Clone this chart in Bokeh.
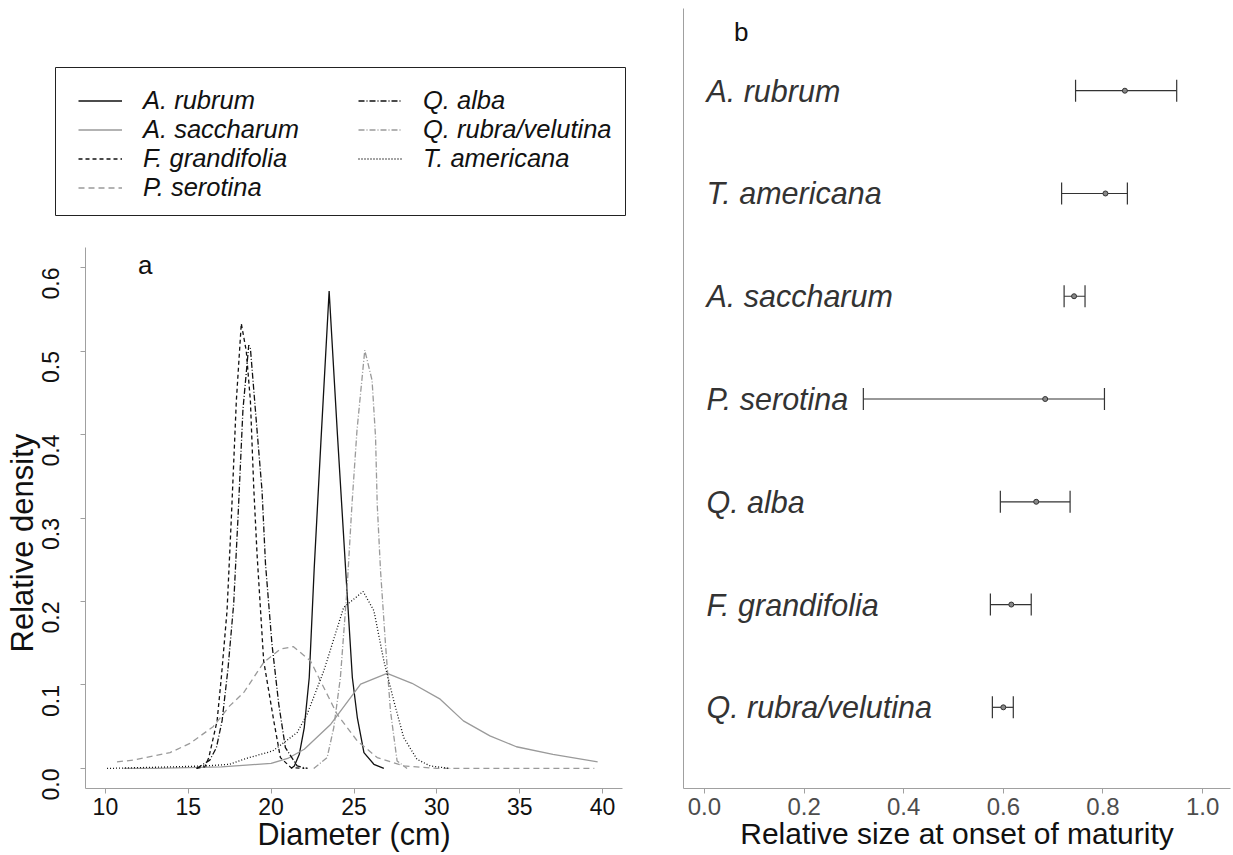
import math
from bokeh.plotting import figure
from bokeh.layouts import row, column
from bokeh.models import (Range1d, Legend, LegendItem, Whisker, TeeHead, Title,
                          ColumnDataSource, FixedTicker, Label, CustomJSTickFormatter)
from bokeh.embed import file_html
from bokeh.resources import INLINE
from bokeh.core.properties import value

FONT = "Liberation Sans"

# ---- panel a: diameter density curves ----
species = ["A. rubrum", "A. saccharum", "F. grandifolia", "P. serotina",
           "Q. alba", "Q. rubra/velutina", "T. americana"]

a_rubrum_x = [21.2, 21.4, 21.7, 22.0, 22.3, 22.6, 23.0, 23.5, 24.0, 24.5, 24.9, 25.2, 25.6, 26.2, 26.8]
a_rubrum_y = [0.0, 0.003, 0.017, 0.049, 0.109, 0.24, 0.39, 0.572, 0.40, 0.237, 0.109, 0.061, 0.019, 0.005, 0.0]

a_saccharum_x = [11.1, 13.0, 15.0, 17.0, 18.5, 20.0, 21.0, 22.0, 23.6, 25.4, 27.0, 28.5, 30.2, 31.6, 33.2, 34.8, 37.0, 39.7]
a_saccharum_y = [0.0, 0.0, 0.001, 0.002, 0.004, 0.006, 0.012, 0.023, 0.053, 0.101, 0.114, 0.102, 0.083, 0.057, 0.039, 0.026, 0.017, 0.008]

f_grandifolia_x = [15.5, 16.0, 16.24, 16.74, 17.0, 17.34, 17.6, 17.9, 18.2, 18.5, 18.75, 18.95, 19.15, 19.55, 20.16, 20.56, 21.2, 22.0]
f_grandifolia_y = [0.0, 0.002, 0.013, 0.057, 0.11, 0.189, 0.30, 0.44, 0.533, 0.50, 0.44, 0.337, 0.257, 0.129, 0.057, 0.013, 0.001, 0.0]

p_serotina_x = [10.7, 11.7, 13.9, 15.1, 16.5, 17.5, 18.35, 19.55, 20.56, 21.33, 22.37, 23.98, 25.2, 26.4, 28.0, 30.0, 35.0, 39.5]
p_serotina_y = [0.008, 0.010, 0.019, 0.030, 0.050, 0.075, 0.091, 0.127, 0.143, 0.146, 0.129, 0.065, 0.033, 0.013, 0.003, 0.0, 0.0, 0.0]

q_alba_x = [15.5, 16.3, 16.7, 17.04, 17.4, 17.74, 18.0, 18.3, 18.65, 18.75, 19.15, 19.45, 19.66, 20.05, 20.46, 20.86, 21.57, 22.2]
q_alba_y = [0.0, 0.01, 0.025, 0.057, 0.12, 0.197, 0.30, 0.43, 0.507, 0.503, 0.405, 0.333, 0.245, 0.149, 0.077, 0.025, 0.003, 0.0]

q_rubra_x = [22.57, 23.38, 23.78, 24.18, 24.58, 24.88, 25.18, 25.65, 26.09, 26.3, 26.4, 26.6, 26.9, 27.2, 27.6, 28.2]
q_rubra_y = [0.0, 0.013, 0.049, 0.109, 0.215, 0.317, 0.405, 0.501, 0.465, 0.397, 0.317, 0.237, 0.149, 0.069, 0.009, 0.0]

t_americana_x = [10.1, 12.0, 14.2, 16.0, 17.5, 18.5, 20.1, 21.57, 22.17, 23.18, 24.38, 25.55, 26.2, 26.8, 27.4, 28.0, 28.8, 29.6, 30.8]
t_americana_y = [0.0, 0.001, 0.002, 0.003, 0.005, 0.012, 0.021, 0.043, 0.065, 0.117, 0.193, 0.212, 0.189, 0.129, 0.081, 0.037, 0.011, 0.003, 0.0]

curve_x = [a_rubrum_x, a_saccharum_x, f_grandifolia_x, p_serotina_x, q_alba_x, q_rubra_x, t_americana_x]
curve_y = [a_rubrum_y, a_saccharum_y, f_grandifolia_y, p_serotina_y, q_alba_y, q_rubra_y, t_americana_y]

BLACK = "#111111"
GREY = "#9a9a9a"
line_colors = [BLACK, GREY, BLACK, GREY, BLACK, GREY, BLACK]
line_dashes = ["solid", "solid", "4 3", "6 4", "6 2 1 2", "6 2 1 2", "1 2"]

x_ticks_a = [10, 15, 20, 25, 30, 35, 40]
y_ticks_a = [0.0, 0.1, 0.2, 0.3, 0.4, 0.5, 0.6]

# ---- panel b: relative size at onset of maturity ----
mat_species = ["Q. rubra/velutina", "F. grandifolia", "Q. alba", "P. serotina",
               "A. saccharum", "T. americana", "A. rubrum"]
mat_mean = [0.600, 0.616, 0.666, 0.684, 0.742, 0.805, 0.844]
mat_low = [0.578, 0.574, 0.594, 0.319, 0.722, 0.717, 0.745]
mat_high = [0.620, 0.656, 0.734, 0.803, 0.764, 0.849, 0.948]
x_ticks_b = [0.0, 0.2, 0.4, 0.6, 0.8, 1.0]

AXIS_GREY = "#a0a0a0"


def style_axes(p):
    for ax in p.axis:
        ax.axis_line_color = AXIS_GREY
        ax.major_tick_line_color = AXIS_GREY
        ax.minor_tick_line_color = None
        ax.major_tick_out = 5
        ax.major_tick_in = 0
        ax.major_label_text_font = FONT
        ax.axis_label_text_font = FONT
        ax.axis_label_text_font_style = "normal"
    p.grid.visible = False
    p.outline_line_color = None


# legend box: the frame outline is the box
leg_fig = figure(width=650, height=247, x_range=Range1d(0, 1), y_range=Range1d(0, 1),
                 toolbar_location=None, output_backend="svg",
                 x_axis_location=None, y_axis_location=None,
                 min_border_left=55, min_border_right=25, min_border_top=67, min_border_bottom=32)
leg_fig.grid.visible = False
leg_fig.outline_line_color = "#222222"
leg_fig.outline_line_width = 1

NAN = float("nan")
leg_items = []
for name, c, d in zip(species, line_colors, line_dashes):
    r = leg_fig.line(x=[NAN, NAN], y=[NAN, NAN], line_color=c, line_dash=d, line_width=1.3)
    leg_items.append(LegendItem(label=name, renderers=[r]))


def make_legend(items, loc):
    return Legend(items=items, location=loc, orientation="vertical",
                  glyph_width=44, glyph_height=29, label_height=29, label_standoff=21,
                  spacing=0, padding=0, margin=0,
                  label_text_font=FONT, label_text_font_style="italic",
                  label_text_font_size="25.5px", label_text_color="#111111",
                  border_line_color=None, background_fill_alpha=0)


leg_fig.add_layout(make_legend(leg_items[:4], (23, 13)), "center")
leg_fig.add_layout(make_legend(leg_items[4:], (303, 42)), "center")

# density panel
pa = figure(width=650, height=608, x_range=Range1d(8.8, 41.2), y_range=Range1d(-0.024, 0.624),
            toolbar_location=None, output_backend="svg",
            min_border_left=85, min_border_right=28, min_border_top=0, min_border_bottom=67)
for xs, ys, c, d in zip(curve_x, curve_y, line_colors, line_dashes):
    pa.line(x=xs, y=ys, line_color=c, line_dash=d, line_width=1.3)

style_axes(pa)
pa.xaxis.ticker = FixedTicker(ticks=x_ticks_a)
pa.yaxis.ticker = FixedTicker(ticks=y_ticks_a)
pa.yaxis.formatter = CustomJSTickFormatter(code="return tick.toFixed(1);")
pa.yaxis.major_label_orientation = math.pi / 2
pa.axis.major_label_text_font_size = "23px"
pa.axis.major_label_text_color = "#111111"
pa.xaxis.axis_label = "Diameter (cm)"
pa.xaxis.axis_label_text_font_size = "30.5px"
pa.xaxis.axis_label_text_color = "#111111"
pa.xaxis.major_label_standoff = 4
pa.xaxis.axis_label_standoff = -1
pa.yaxis.major_label_standoff = 30

# y title, started a fixed distance above the bottom of the frame
pa.add_layout(Title(text="Relative density", align="left", offset=136,
                    vertical_align="middle", standoff=-20,
                    text_font=FONT, text_font_style="normal", text_font_size="31px",
                    text_color="#111111"), "left")
pa.add_layout(Label(x=12.4, y=0.603, text="a", text_font=FONT, text_font_size="26px",
                    text_color="#111111", text_align="center", text_baseline="middle"))

# maturity panel
pb = figure(width=583, height=855, x_range=Range1d(-0.042, 1.056), y_range=Range1d(0.21, 7.8),
            toolbar_location=None, output_backend="svg",
            min_border_left=33, min_border_right=3, min_border_top=8, min_border_bottom=67)
style_axes(pb)
pos = list(range(1, len(mat_species) + 1))
src = ColumnDataSource(dict(y=pos, name=mat_species, mean=mat_mean, low=mat_low, high=mat_high))
pb.add_layout(Whisker(source=src, base="y", lower="low", upper="high", dimension="width",
                      line_color="#333333", line_width=1.2,
                      lower_head=TeeHead(size=22, line_color="#333333", line_width=1.2),
                      upper_head=TeeHead(size=22, line_color="#333333", line_width=1.2)))
pb.scatter(x="mean", y="y", source=src, size=5, fill_color="#888888", line_color="#333333", line_width=1)
pb.text(x=0.0, y="y", text="name", source=src, x_offset=2,
        text_font=value(FONT), text_font_style="italic", text_font_size="30.5px",
        text_color="#333333", text_align="left", text_baseline="middle")
pb.yaxis.ticker = FixedTicker(ticks=[])
pb.yaxis.major_tick_line_color = None
pb.yaxis.major_label_text_font_size = "0px"
pb.xaxis.ticker = FixedTicker(ticks=x_ticks_b)
pb.xaxis.formatter = CustomJSTickFormatter(code="return tick.toFixed(1);")
pb.xaxis.major_label_text_font_size = "24px"
pb.xaxis.major_label_text_color = "#4d4d4d"
pb.xaxis.major_label_standoff = 4
pb.xaxis.axis_label = "Relative size at onset of maturity"
pb.xaxis.axis_label_text_font_size = "30px"
pb.xaxis.axis_label_text_color = "#111111"
pb.xaxis.axis_label_standoff = -1
pb.add_layout(Label(x=0.074, y=7.57, text="b", text_font=FONT, text_font_size="26px",
                    text_color="#111111", text_align="center", text_baseline="middle"))

layout = row(column(row(leg_fig), pa, spacing=0), pb, spacing=0)
open("out.html", "w").write(file_html(layout, INLINE))
